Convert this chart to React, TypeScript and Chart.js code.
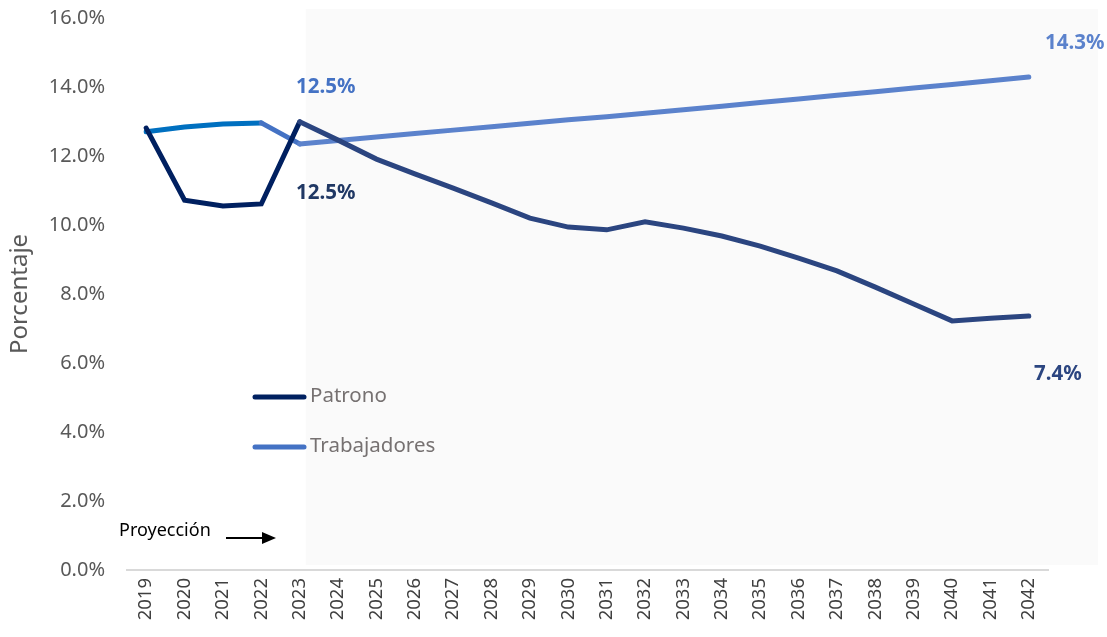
import React, { useEffect, useRef } from "react";
import { Chart, registerables } from "chart.js";

Chart.register(...registerables);

const years = ["2019","2020","2021","2022","2023","2024","2025","2026","2027","2028","2029","2030","2031","2032","2033","2034","2035","2036","2037","2038","2039","2040","2041","2042"];
const patrono = [12.81,10.72,10.55,10.61,12.99,12.46,11.91,11.48,11.07,10.64,10.2,9.94,9.86,10.09,9.91,9.68,9.39,9.04,8.67,8.2,7.71,7.22,7.3,7.36];
const trabajadores = [12.7,12.84,12.93,12.96,12.35,12.45,12.55,12.65,12.75,12.85,12.95,13.05,13.14,13.24,13.34,13.44,13.55,13.65,13.76,13.86,13.97,14.07,14.18,14.29];
const yTicks = [0,2,4,6,8,10,12,14,16];
const seriesNames = ["Patrono", "Trabajadores"];
const annotation = "Proyección";
const labelPatrono2023 = "12.5%";
const labelTrab2023 = "12.5%";
const labelPatronoEnd = "7.4%";
const labelTrabEnd = "14.3%";

const FONT = "'Noto Sans', 'Open Sans', sans-serif";
const C_PAT_HIST = "#002060";
const C_PAT_PROJ = "#2B4580";
const C_TRAB_HIST = "#0070C0";
const C_TRAB_PROJ = "#5B82CC";
const HIST_LAST = 3;

const overlay = {
  id: "overlay",
  beforeDatasetsDraw(chart: any) {
    const { ctx } = chart;
    const x = chart.scales.x;
    ctx.save();
    ctx.fillStyle = "#FAFAFA";
    const left = x.getPixelForValue(4) + 6;
    ctx.fillRect(left, 9, 1098 - left, 556);
    ctx.restore();
  },
  afterDatasetsDraw(chart: any) {
    const { ctx } = chart;
    const x = chart.scales.x;
    const y = chart.scales.y;
    ctx.save();
    ctx.font = `bold 20.5px ${FONT}`;
    ctx.textAlign = "center";
    ctx.textBaseline = "middle";
    const x23 = x.getPixelForValue(4);
    ctx.fillStyle = "#4472C4";
    ctx.fillText(labelTrab2023, x23 + 26, y.getPixelForValue(trabajadores[4]) - 57);
    ctx.fillStyle = "#203864";
    ctx.fillText(labelPatrono2023, x23 + 26, y.getPixelForValue(patrono[4]) + 71);
    const xl = x.getPixelForValue(years.length - 1);
    ctx.fillStyle = "#5B82CC";
    ctx.fillText(labelTrabEnd, xl + 46, y.getPixelForValue(trabajadores[years.length - 1]) - 34);
    ctx.fillStyle = "#2B4580";
    ctx.fillText(labelPatronoEnd, xl + 29, y.getPixelForValue(patrono[years.length - 1]) + 58);

    ctx.lineCap = "round";
    ctx.lineWidth = 5;
    const legend = [
      { name: seriesNames[0], color: C_PAT_HIST, yy: 397 },
      { name: seriesNames[1], color: "#4472C4", yy: 447 },
    ];
    ctx.font = `20.5px ${FONT}`;
    ctx.textAlign = "left";
    for (const l of legend) {
      ctx.strokeStyle = l.color;
      ctx.beginPath();
      ctx.moveTo(255, l.yy);
      ctx.lineTo(304, l.yy);
      ctx.stroke();
      ctx.fillStyle = "#767171";
      ctx.fillText(l.name, 310, l.yy - 1);
    }

    ctx.fillStyle = "#000000";
    ctx.font = `18px ${FONT}`;
    ctx.fillText(annotation, 119, 531);
    ctx.strokeStyle = "#000000";
    ctx.lineWidth = 2;
    ctx.lineCap = "butt";
    ctx.beginPath();
    ctx.moveTo(226, 538);
    ctx.lineTo(264, 538);
    ctx.stroke();
    ctx.beginPath();
    ctx.moveTo(276, 538);
    ctx.lineTo(262, 532);
    ctx.lineTo(262, 544);
    ctx.closePath();
    ctx.fill();
    ctx.restore();
  },
};

export default function App() {
  const ref = useRef<HTMLCanvasElement>(null);
  useEffect(() => {
    if (!ref.current) return;
    const chart = new Chart(ref.current, {
      type: "line",
      data: {
        labels: years,
        datasets: [
          {
            label: seriesNames[0],
            data: patrono,
            borderWidth: 5,
            pointRadius: 0,
            borderColor: C_PAT_PROJ,
            borderCapStyle: "round",
            segment: {
              borderColor: (c: any) => (c.p0DataIndex < HIST_LAST + 1 ? C_PAT_HIST : C_PAT_PROJ),
            },
          },
          {
            label: seriesNames[1],
            data: trabajadores,
            borderWidth: 5,
            pointRadius: 0,
            borderColor: C_TRAB_PROJ,
            borderCapStyle: "round",
            segment: {
              borderColor: (c: any) => (c.p0DataIndex < HIST_LAST ? C_TRAB_HIST : c.p0DataIndex === HIST_LAST ? "#4472C4" : C_TRAB_PROJ),
            },
          },
        ],
      },
      options: {
        responsive: false,
        animation: false,
        layout: { padding: { top: 18, right: 59, left: 0, bottom: 0 } },
        plugins: { legend: { display: false }, tooltip: { enabled: false } },
        scales: {
          x: {
            offset: true,
            grid: { display: false, drawTicks: false },
            border: { color: "#D9D9D9", width: 2 },
            ticks: {
              minRotation: 90,
              maxRotation: 90,
              padding: 8,
              color: "#404040",
              font: { family: FONT, size: 18.5 },
              autoSkip: false,
            },
            afterFit: (s: any) => { s.height = 67; s.paddingLeft = 0; s.paddingRight = 0; },
          },
          y: {
            min: 0,
            max: 16,
            afterBuildTicks: (s: any) => { s.ticks = yTicks.map((v) => ({ value: v })); },
            grid: { display: false, drawTicks: false },
            border: { display: false },
            ticks: {
              padding: 22,
              color: "#595959",
              font: { family: FONT, size: 20 },
              callback: (v: any) => Number(v).toFixed(1) + "%",
            },
            title: {
              display: true,
              text: "Porcentaje",
              color: "#595959",
              font: { family: FONT, size: 24 },
              padding: { top: 6, bottom: 0 },
            },
            afterFit: (s: any) => { s.width = 127; s.paddingTop = 0; s.paddingBottom = 0; },
          },
        },
      },
      plugins: [overlay],
    });
    return () => chart.destroy();
  }, []);
  return (
    <div style={{ position: "fixed", left: 0, top: 0, width: 1107, height: 637, background: "#fff" }}>
      <canvas ref={ref} width={1107} height={637} style={{ width: 1107, height: 637 }} />
    </div>
  );
}
